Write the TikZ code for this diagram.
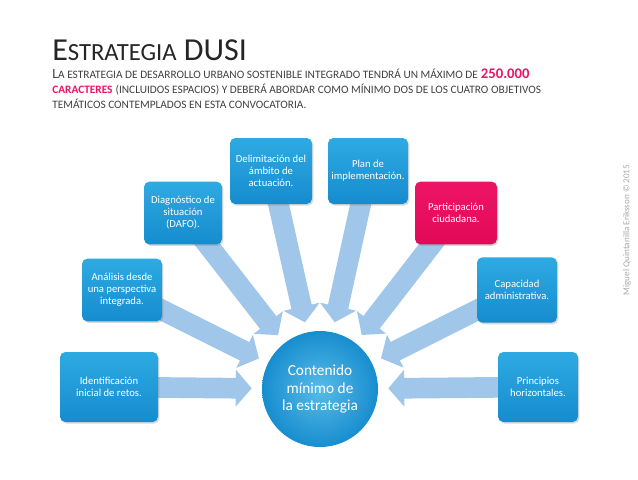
\documentclass[tikz,border=0pt]{standalone}
\usepackage{fontspec}
\setmainfont{Carlito}
\usetikzlibrary{arrows.meta,shadows,backgrounds}
\definecolor{cajaarriba}{RGB}{46,170,226}
\definecolor{cajaabajo}{RGB}{22,140,206}
\definecolor{rosa}{RGB}{236,20,100}
\definecolor{rosaabajo}{RGB}{226,10,88}
\definecolor{flechaazul}{RGB}{160,198,234}
\definecolor{titulo}{RGB}{38,38,38}
\definecolor{texto}{RGB}{64,64,64}
\definecolor{firma}{RGB}{170,170,170}
\newcommand{\versal}[1]{{\fontsize{8.5}{9}\selectfont\MakeUppercase{#1}}}

\begin{document}
\begin{tikzpicture}[x=0.75pt,y=0.75pt,yscale=-1,xscale=1,
  caja/.style={rectangle,rounded corners=4pt,top color=cajaarriba,bottom color=cajaabajo,
    text=white,font=\fontsize{8}{9}\selectfont,align=center,inner sep=2pt,
    drop shadow={opacity=0.3,shadow xshift=1pt,shadow yshift=-1.2pt}},
  flecha/.style={draw=flechaazul,line width=15.5pt,-{Triangle[length=12pt,width=27pt]},
    shorten >=7.5pt,shorten <=-12pt}]
\path[use as bounding box] (0,0) rectangle (638,479);

% Title
\node (titulo) [anchor=base west,inner sep=0pt,text=titulo] at (52,60)
  {\fontsize{24}{26}\selectfont E{\fontsize{18.5}{20}\selectfont STRATEGIA} DUSI};
% Text Node
\node (linea1) [anchor=base west,inner sep=0pt,text=texto] at (52,78)
  {{\fontsize{10.5}{12}\selectfont L}\versal{a estrategia de desarrollo urbano sostenible integrado tendrá un máximo de} {\fontsize{11}{12}\selectfont\bfseries\color{rosa}250.000}};
\node (linea2) [anchor=base west,inner sep=0pt,text=texto] at (52,93)
  {{\bfseries\color{rosa}\versal{caracteres}} \versal{(incluidos espacios) y deberá abordar como mínimo dos de los cuatro objetivos}};
\node (linea3) [anchor=base west,inner sep=0pt,text=texto] at (52,108)
  {\versal{temáticos contemplados en esta convocatoria.}};

% Text Node
\node (firma) [rotate=90,text=firma,font=\fontsize{6.8}{7}\selectfont,inner sep=0pt] at (627,230)
  {Miguel Quintanilla Eriksson © 2015};

%Shape: Circle
\node (contenido) [circle,minimum size=87pt,inner sep=0pt,shading=radial,inner color=cajaarriba!80!white,
  outer color=cajaabajo!95!cajaarriba,text=white,align=center,font=\fontsize{11.5}{13}\selectfont]
  at (320,389) {Contenido\\mínimo de\\la estrategia};

%Shape: Boxes
\node (ident) [caja,minimum width=73.5pt,minimum height=52.5pt] at (109,387) {Identificación\\inicial de retos.};
\node (analisis) [caja,minimum width=60pt,minimum height=47pt] at (122,290) {Análisis desde\\una perspectiva\\integrada.};
\node (diag) [caja,minimum width=58.5pt,minimum height=47pt] at (183,213) {Diagnóstico de\\situación\\(DAFO).};
\node (delim) [caja,minimum width=61.5pt,minimum height=49.5pt] at (271,171) {Delimitación del\\ámbito de\\actuación.};
\node (plan) [caja,minimum width=60pt,minimum height=49.5pt] at (368,171) {Plan de\\implementación.};
\node (partic) [caja,minimum width=61.5pt,minimum height=47pt,top color=rosa,bottom color=rosaabajo] at (456,213) {Participación\\ciudadana.};
\node (capac) [caja,minimum width=60pt,minimum height=49pt] at (517,290) {Capacidad\\administrativa.};
\node (princ) [caja,minimum width=60pt,minimum height=52.5pt] at (538,387) {Principios\\horizontales.};

%Straight Lines: block arrows
\begin{scope}[on background layer]
\fill[white] (0,0) rectangle (638,479);
\foreach \caja in {ident,analisis,diag,delim,plan,partic,capac,princ}
  \draw[flecha] (\caja) -- (contenido);
\end{scope}

\end{tikzpicture}
\end{document}
